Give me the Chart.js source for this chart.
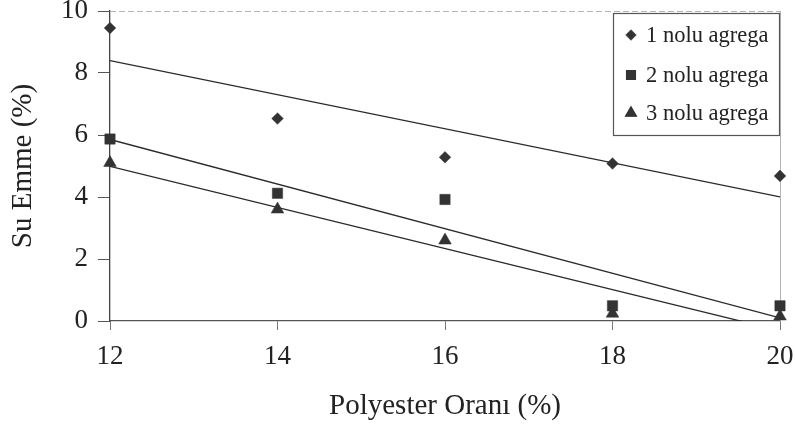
<!DOCTYPE html>
<html>
<head>
<meta charset="utf-8">
<script src="https://cdn.jsdelivr.net/npm/chart.js@4.4.1/dist/chart.umd.min.js"></script>
<style>
  html, body { margin: 0; padding: 0; background: #fff; }
  #wrap { width: 795px; height: 430px; }
</style>
</head>
<body>
<div id="wrap"><canvas id="chart" width="795" height="430"></canvas></div>
<script>
const polyesterRatio = [12, 14, 16, 18, 20];
const agrega1 = [9.45, 6.53, 5.28, 5.08, 4.68];
const agrega2 = [5.87, 4.12, 3.92, 0.49, 0.49];
const agrega3 = [5.1, 3.6, 2.6, 0.24, 0.15];
const seriesNames = ['1 nolu agrega', '2 nolu agrega', '3 nolu agrega'];
const yTicks = [0, 2, 4, 6, 8, 10];

const markColor = '#333333';
const serif = "'Liberation Serif', 'Times New Roman', serif";

// least squares trendline, same as the spreadsheet's linear trendline
const trendLine = (xs, ys) => {
    const n = xs.length;
    const mx = xs.reduce((a, b) => a + b, 0) / n;
    const my = ys.reduce((a, b) => a + b, 0) / n;
    let sxy = 0, sxx = 0;
    xs.forEach((x, i) => { sxy += (x - mx) * (ys[i] - my); sxx += (x - mx) * (x - mx); });
    const slope = sxy / sxx;
    const first = xs[0], last = xs[n - 1];
    return [
        { x: first, y: my + slope * (first - mx) },
        { x: last, y: my + slope * (last - mx) }
    ];
};

const toPoints = (ys) => polyesterRatio.map((x, i) => ({ x: x, y: ys[i] }));

const pointStyles = ['rectRot', 'rect', 'triangle'];
const pointSizes = [5.8, 7.3, 7.3];
const allSeries = [agrega1, agrega2, agrega3];

const datasets = [];
allSeries.forEach((ys, i) => {
    datasets.push({
        type: 'line',
        label: seriesNames[i] + ' trend',
        data: trendLine(polyesterRatio, ys),
        borderColor: '#2a2a2a',
        borderWidth: 1.3,
        pointRadius: 0,
        fill: false,
        order: 2
    });
});
allSeries.forEach((ys, i) => {
    datasets.push({
        type: 'scatter',
        label: seriesNames[i],
        data: toPoints(ys),
        pointStyle: pointStyles[i],
        pointRadius: pointSizes[i],
        backgroundColor: markColor,
        borderColor: markColor,
        borderWidth: 0.5,
        clip: false,
        order: 1
    });
});

const plotFrame = {
    id: 'plotFrame',
    beforeDatasetsDraw(chart) {
        const { ctx, chartArea: a } = chart;
        ctx.save();
        ctx.strokeStyle = '#b5b5b5';
        ctx.lineWidth = 1;
        ctx.setLineDash([6, 3]);
        ctx.beginPath();
        ctx.moveTo(a.left, a.top + 0.5);
        ctx.lineTo(a.right, a.top + 0.5);
        ctx.stroke();
        ctx.setLineDash([]);
        ctx.beginPath();
        ctx.moveTo(a.right + 0.5, a.top);
        ctx.lineTo(a.right + 0.5, a.bottom);
        ctx.stroke();
        ctx.restore();
    }
};

const boxLegend = {
    id: 'boxLegend',
    afterDraw(chart) {
        const { ctx } = chart;
        const left = 613, top = 13, w = 166, h = 122;
        ctx.save();
        ctx.fillStyle = '#fff';
        ctx.fillRect(left, top, w, h);
        ctx.strokeStyle = '#555';
        ctx.lineWidth = 1.2;
        ctx.strokeRect(left + 0.5, top + 0.5, w, h);
        ctx.font = '22.5px ' + serif;
        ctx.textBaseline = 'middle';
        ctx.textAlign = 'left';
        const rows = [35, 75, 113];
        seriesNames.forEach((name, i) => {
            Chart.helpers.drawPoint(ctx, {
                pointStyle: pointStyles[i],
                radius: pointSizes[i] - 1,
                borderWidth: 0.5
            }, 631, rows[i]);
            ctx.fillStyle = markColor;
            ctx.strokeStyle = markColor;
            ctx.fill();
            ctx.fillStyle = '#222';
            ctx.fillText(name, 646, rows[i] + 1);
        });
        ctx.restore();
    }
};

new Chart(document.getElementById('chart'), {
    data: { datasets: datasets },
    options: {
        responsive: false,
        animation: false,
        layout: { padding: { top: 11, right: 15, left: 0, bottom: 0 } },
        plugins: {
            legend: { display: false },
            tooltip: { enabled: false }
        },
        scales: {
            x: {
                type: 'linear',
                min: 12,
                max: 20,
                ticks: {
                    stepSize: 2,
                    padding: 11,
                    color: '#222',
                    font: { family: serif, size: 27 }
                },
                grid: { drawOnChartArea: false, drawTicks: true, tickLength: 9, color: '#777' },
                border: { display: true, color: '#555', width: 1.3 },
                title: {
                    display: true,
                    text: 'Polyester Oranı (%)',
                    color: '#222',
                    font: { family: serif, size: 29 },
                    padding: { top: 0, bottom: 6 }
                },
                afterFit(scale) {
                    scale.height = 109;
                    scale.paddingLeft = 0;
                    scale.paddingRight = 0;
                }
            },
            y: {
                min: 0,
                max: 10,
                afterBuildTicks(scale) { scale.ticks = yTicks.map(v => ({ value: v })); },
                ticks: {
                    padding: 10,
                    color: '#222',
                    font: { family: serif, size: 27 }
                },
                grid: { drawOnChartArea: false, drawTicks: true, tickLength: 12, color: '#555' },
                border: { display: true, color: '#444', width: 1.3 },
                title: {
                    display: true,
                    text: 'Su Emme (%)',
                    color: '#222',
                    font: { family: serif, size: 29 },
                    padding: { top: 6, bottom: 0 }
                },
                afterFit(scale) {
                    scale.width = 110;
                    scale.paddingTop = 0;
                    scale.paddingBottom = 0;
                }
            }
        }
    },
    plugins: [plotFrame, boxLegend]
});
</script>
</body>
</html>
